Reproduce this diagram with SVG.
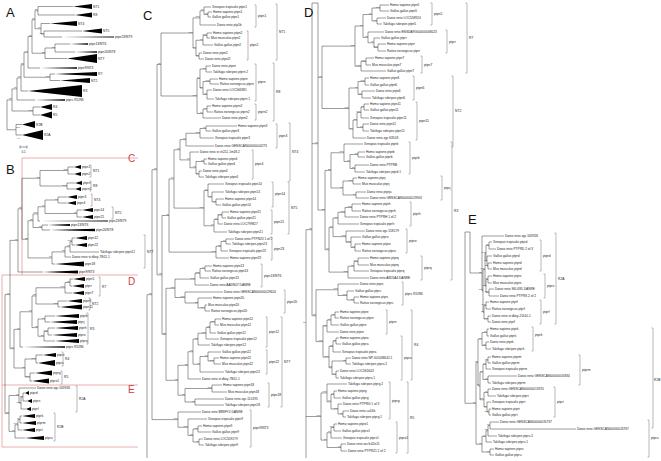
<svg xmlns="http://www.w3.org/2000/svg" width="661" height="461" viewBox="0 0 661 461">
<style>
text{font-family:"Liberation Sans",Arial,sans-serif}
.t{font-size:3.2px;fill:#222;dominant-baseline:central}
.k{font-size:3.3px;fill:#222;dominant-baseline:central}
.b{font-size:2.4px;fill:#333;text-anchor:end}
.L{font-size:13px;fill:#111}
.r{font-size:10px;fill:#d23b3b}
.tr{fill:none;stroke:#222;stroke-width:.45}
.br{fill:none;stroke:#8a8a8a;stroke-width:.6}
.box{fill:none;stroke:#e69a9a;stroke-width:.8}
.tri{fill:#000}
</style>
<rect width="661" height="461" fill="#fff"/>

<!-- ================= PANEL A ================= -->
<g id="panelA">
<text class="L" x="6" y="17">A</text>
<g id="A-connectors"><path class="tr" d="M38 6.5V15M38 6.5H73M38 15H75M44 31V37M44 31H82M44 37H62M41 23.5V34M41 23.5H50M41 34H44M35 10.75V28.75M35 10.75H38M35 28.75H41M55 44V52M55 44H70M55 52H75M45 48V58.5M45 48H55M45 58.5H67M32 19.75V53.25M32 19.75H35M32 53.25H45M28 36.5V68M28 36.5H32M28 68H40M50 74V80.5M50 74H55M50 80.5H60M24 52.25V77.25M24 52.25H28M24 77.25H50M21 64.75V91M21 64.75H24M21 91H28M17 77.9V100M17 77.9H21M17 100H35M33 107V115M33 107H40M33 115H40M12 88.9V111M12 88.9H17M12 111H33M16 124.5V135M16 124.5H22M16 135H22M7 99.95V129.75M7 99.95H12M7 129.75H16"/></g>
<g id="A-clades">
<polygon class="tri" points="73,6.5 92,4 92,9"/><text class="k" x="93" y="6.5">NT1</text>
<polygon class="tri" points="75,15 92,12.5 92,17.5"/><text class="k" x="93" y="15">R8</text>
<polygon class="tri" points="50,23.5 77,21 77,26"/><text class="k" x="78" y="23.5">NT4</text>
<polygon class="tri" points="82,31 102,28.5 102,33.5"/><text class="k" x="103" y="31">NT5</text>
<polygon class="tri" points="62,37 114,36.4 114,37.6"/><text class="k" x="115" y="37">ptpn23/NT9</text>
<polygon class="tri" points="70,44 88,43.2 88,44.8"/><text class="k" x="89" y="44">ptpn13/NT6</text>
<polygon class="tri" points="75,52 97,51.2 97,52.8"/><text class="k" x="98" y="52">ptpn20/NT8</text>
<polygon class="tri" points="67,58.5 97,54 97,63"/><text class="k" x="98" y="58.5">NT7</text>
<polygon class="tri" points="40,68 77,67.2 77,68.8"/><text class="k" x="78" y="68">ptpn9/NT3</text>
<polygon class="tri" points="55,74 97,72 97,76"/><text class="k" x="98" y="74">R7</text>
<polygon class="tri" points="60,80.5 90,78 90,83"/><text class="k" x="91" y="80.5">NT2</text>
<polygon class="tri" points="28,91 82,85 82,97"/><text class="k" x="83" y="91">R3</text>
<polygon class="tri" points="35,100 65,99.2 65,100.8"/><text class="k" x="66" y="100">ptprc R1/R6</text>
<polygon class="tri" points="40,107 52,104 52,110"/><text class="k" x="53" y="107">R4</text>
<polygon class="tri" points="40,115 52,111.5 52,118.5"/><text class="k" x="53" y="115">R5</text>
<polygon class="tri" points="22,124.5 35,121 35,128"/><text class="k" x="36" y="124.5">R2B</text>
<polygon class="tri" points="22,135 43,130 43,140"/><text class="k" x="44" y="135">R2A</text>
</g>
<g id="A-support">
<text class="b" x="37.6" y="10.25">56</text><text class="b" x="43.6" y="33.5">100</text><text class="b" x="40.6" y="28.25">99</text><text class="b" x="34.6" y="19.25">67</text><text class="b" x="54.6" y="47.5">72</text><text class="b" x="44.6" y="52.75">32</text><text class="b" x="31.6" y="36">18</text><text class="b" x="27.6" y="51.75">64</text><text class="b" x="49.6" y="76.75">100</text><text class="b" x="23.6" y="64.25">65</text><text class="b" x="20.6" y="77.4">78</text><text class="b" x="16.6" y="88.4">16</text><text class="b" x="32.6" y="110.5">100</text><text class="b" x="11.6" y="99.45">78</text><text class="b" x="20" y="127.8">100</text><text class="b" x="20" y="138.5">99</text>
</g>
<g id="A-scale"><path class="tr" d="M20 145.5V148.5M20 147H27M27 145.5V148.5"/><text x="21.5" y="152.5" style="font-size:3px;fill:#222">0.1</text></g>
</g>

<!-- ================= PANEL B ================= -->
<g id="panelB">
<text class="L" x="6" y="174">B</text>
<g id="B-boxes">
<path class="box" d="M138 158H22V275"/>
<path class="box" d="M138 275H2V385"/>
<path class="box" d="M138 385H2V447H138"/>
<text class="r" x="128" y="162">C</text>
<text class="r" x="128" y="285">D</text>
<text class="r" x="128" y="393">E</text>
</g>
<g id="B-connectors"><path class="tr" d="M68 167V174M68 167H74M68 174H74M67 183V189M67 183H75M67 189H75M40 170.5V186M40 170.5H68M40 186H67M58 197V203M58 197H67M58 203H67M77 210V217M77 210H82M77 217H82M45 200V213.5M45 200H58M45 213.5H77M38 206.75V221M38 206.75H45M38 221H40M42 225V230M42 225H48M42 230H50M33 213.9V227.5M33 213.9H38M33 227.5H42M72 238V245M72 238H75M72 245H75M70 241.5V252M70 241.5H72M70 252H99M65 246.75V257M65 246.75H70M65 257H71M52 251.9V264M52 251.9H65M52 264H55M28 220.7V257.95M28 220.7H33M28 257.95H52M22 178.25V239.3M22 178.25H40M22 239.3H28M18 208.8V272M18 208.8H22M18 272H43M70 279V286M70 279H73M70 286H72M65 282.5V293M65 282.5H70M65 293H72M58 301V307M58 301H67M58 307H60M36 287.75V304M36 287.75H65M36 304H58M45 316V322M45 316H55M45 322H50M48 328V335M48 328H55M48 335H52M44 331.5V341M44 331.5H48M44 341H55M38 319V336.25M38 319H45M38 336.25H44M32 295.9V327.6M32 295.9H36M32 327.6H38M20 311.75V347M20 311.75H32M20 347H23M36 355V363M36 355H43M36 363H38M30 373V381M30 373H35M30 381H32M25 359V377M25 359H36M25 377H30M14 329.4V368M14 329.4H20M14 368H25M10 240.4V348.7M10 240.4H18M10 348.7H14M23 393V401M23 393H25M23 401H27M21 397V409M21 397H23M21 409H26M19 388V403M19 388H36M19 403H21M20 416V423M20 416H22M20 423H22M18 419.5V430M18 419.5H20M18 430H22M15 424.75V438M15 424.75H18M15 438H25M9 395.5V431.4M9 395.5H19M9 431.4H15M5 294.55V413.45M5 294.55H10M5 413.45H9"/></g>
<g id="B-clades">
<polygon class="tri" points="74,167 81,165 81,169"/><text class="k" x="82" y="167">ptpn1</text>
<polygon class="tri" points="74,174 81,172 81,176"/><text class="k" x="82" y="174">ptpn2</text>
<polygon class="tri" points="75,183 82,181 82,185"/><text class="k" x="83" y="183">ptprn</text>
<polygon class="tri" points="75,189 81,187 81,191"/><text class="k" x="82" y="189">ptprn2</text>
<polygon class="tri" points="67,197 77,195 77,199"/><text class="k" x="78" y="197">ptpn3</text>
<polygon class="tri" points="67,203 76,201 76,205"/><text class="k" x="77" y="203">ptpn4</text>
<polygon class="tri" points="82,210 93,208 93,212"/><text class="k" x="94" y="210">ptpn14</text>
<polygon class="tri" points="82,217 93,215 93,219"/><text class="k" x="94" y="217">ptpn21</text>
<polygon class="tri" points="40,221 108,220.4 108,221.6"/><text class="k" x="109" y="221">ptpn23/NT9</text>
<polygon class="tri" points="48,225 70,224 70,226"/><text class="k" x="71" y="225">ptpn13/NT6</text>
<polygon class="tri" points="50,230 95,228.8 95,231.2"/><text class="k" x="96" y="230">ptpn20/NT8</text>
<polygon class="tri" points="75,238 87,236 87,240"/><text class="k" x="88" y="238">ptpn12</text>
<polygon class="tri" points="75,245 87,243 87,247"/><text class="k" x="88" y="245">ptpn22</text>
<text class="t" x="100" y="252">Takifugu rubripes ptpn22</text>
<text class="t" x="72" y="257">Danio rerio si:dkey-78i11.1</text>
<polygon class="tri" points="55,264 84,261.5 84,266.5"/><text class="k" x="85" y="264">ptpn18</text>
<polygon class="tri" points="43,272 78,270.5 78,273.5"/><text class="k" x="79" y="272">ptpn9/NT3</text>
<polygon class="tri" points="73,279 85,277 85,281"/><text class="k" x="86" y="279">ptpn5</text>
<polygon class="tri" points="72,286 84,284 84,288"/><text class="k" x="85" y="286">ptprr</text>
<polygon class="tri" points="72,293 84,291 84,295"/><text class="k" x="85" y="293">ptpn7</text>
<polygon class="tri" points="67,301 82,299 82,303"/><text class="k" x="83" y="301">ptpn6</text>
<polygon class="tri" points="60,307 82,304.5 82,309.5"/><text class="k" x="83" y="307">ptpn11</text>
<polygon class="tri" points="55,316 79,314 79,318"/><text class="k" x="80" y="316">ptprb</text>
<polygon class="tri" points="50,322 77,320 77,324"/><text class="k" x="78" y="322">ptprj</text>
<polygon class="tri" points="55,328 78,326 78,330"/><text class="k" x="79" y="328">ptprh</text>
<polygon class="tri" points="52,335 77,333 77,337"/><text class="k" x="78" y="335">ptpro</text>
<polygon class="tri" points="55,341 79,339 79,343"/><text class="k" x="80" y="341">ptprq</text>
<polygon class="tri" points="23,347 65,346.2 65,347.8"/><text class="k" x="66" y="347">ptprc R1/R6</text>
<polygon class="tri" points="43,355 56,353 56,357"/><text class="k" x="57" y="355">ptpre</text>
<polygon class="tri" points="38,363 55,360 55,366"/><text class="k" x="56" y="363">ptpra</text>
<polygon class="tri" points="35,373 52,370.5 52,375.5"/><text class="k" x="53" y="373">ptprg</text>
<polygon class="tri" points="32,381 49,378.5 49,383.5"/><text class="k" x="50" y="381">ptprz1</text>
<text class="t" x="37" y="388">Danio rerio zgc:163926</text>
<polygon class="tri" points="25,393 29,391 29,395"/><text class="k" x="30" y="393">ptprd</text>
<polygon class="tri" points="27,401 32,399 32,403"/><text class="k" x="33" y="401">ptprs</text>
<polygon class="tri" points="26,409 31,407 31,411"/><text class="k" x="32" y="409">ptprf</text>
<polygon class="tri" points="22,416 35,414 35,418"/><text class="k" x="36" y="416">ptprk</text>
<polygon class="tri" points="22,423 36,421 36,425"/><text class="k" x="37" y="423">ptprm</text>
<polygon class="tri" points="22,430 35,428 35,432"/><text class="k" x="36" y="430">ptprt</text>
<polygon class="tri" points="25,438 44,436 44,440"/><text class="k" x="45" y="438">ptpru</text>
</g>
<g id="B-brackets">
<path class="br" d="M89.5 165H91V177H89.5M89.5 181H91V191H89.5M90.5 194H92V206H90.5M111.5 207H113V219H111.5M143.5 235H145V268H143.5M98.5 277H100V296H98.5M88.5 298H90V310H88.5M86.5 313H88V344H86.5M61.5 352H63V366H61.5M60.5 371H62V384H60.5M75.5 386H77V412H75.5M53.5 413H55V441H53.5"/>
<text class="k" x="93" y="171">NT1</text><text class="k" x="93" y="186">R8</text><text class="k" x="94" y="200">NT4</text><text class="k" x="115" y="213">NT5</text><text class="k" x="147" y="252">NT7</text><text class="k" x="102" y="287">R7</text><text class="k" x="92" y="304">NT2</text><text class="k" x="90" y="329">R3</text><text class="k" x="65" y="359">R4</text><text class="k" x="64" y="377">R5</text><text class="k" x="79" y="399">R2A</text><text class="k" x="57" y="427">R2B</text>
</g>
<g id="B-support">
<text class="b" x="67.6" y="170">100</text><text class="b" x="66.6" y="185.5">100</text><text class="b" x="39.6" y="177.75">30</text><text class="b" x="57.6" y="199.5">99</text><text class="b" x="76.6" y="213">98</text><text class="b" x="44.6" y="206.25">97</text><text class="b" x="37.6" y="213.4">100</text><text class="b" x="41.6" y="227">72</text><text class="b" x="32.6" y="220.2">75</text><text class="b" x="71.6" y="241">100</text><text class="b" x="69.6" y="246.25">91</text><text class="b" x="64.6" y="251.4">82</text><text class="b" x="51.6" y="257.45">96</text><text class="b" x="27.6" y="238.8">32</text><text class="b" x="21.6" y="208.3">17</text><text class="b" x="17.6" y="239.9">97</text><text class="b" x="69.6" y="282">95</text><text class="b" x="64.6" y="287.25">100</text><text class="b" x="57.6" y="303.5">100</text><text class="b" x="35.6" y="295.4">83</text><text class="b" x="44.6" y="318.5">96</text><text class="b" x="47.6" y="331">100</text><text class="b" x="43.6" y="335.75">51</text><text class="b" x="37.6" y="327.1">95</text><text class="b" x="31.6" y="311.25">98</text><text class="b" x="19.6" y="328.9">91</text><text class="b" x="35.6" y="358.5">100</text><text class="b" x="29.6" y="376.5">100</text><text class="b" x="24.6" y="367.5">98</text><text class="b" x="13.6" y="348.2">91</text><text class="b" x="9.6" y="294.05">97</text><text class="b" x="22.6" y="396.5">88</text><text class="b" x="20.6" y="402.5">100</text><text class="b" x="18.6" y="395">92</text><text class="b" x="19.6" y="419">99</text><text class="b" x="17.6" y="424.25">100</text><text class="b" x="14.6" y="430.9">96</text><text class="b" x="8.6" y="412.95">95</text>
</g>
</g>

<!-- ================= PANEL C ================= -->
<g id="panelC">
<text class="L" x="143" y="20">C</text>
<g id="C-connectors"><path class="tr" d="M208 12V17M208 12H212M208 17H211M204 7V14.5M204 7H211M204 14.5H208M200 10.75V25M200 10.75H204M200 25H216M207 33V38M207 33H212M207 38H210M203 35.5V45M203 35.5H207M203 45H213M199 53V59M199 53H202M199 59H204M196 40.25V56M196 40.25H203M196 56H199M193 17.9V48.1M193 17.9H200M193 48.1H196M210 79V84M210 79H218M210 84H219M206 66V72M206 66H211M206 72H212M207 90V99M207 90H212M207 99H214M203 81.5V94.5M203 81.5H210M203 94.5H207M200 69V88M200 69H206M200 88H203M207 106V112M207 106H211M207 112H213M203 109V118M203 109H207M203 118H221M197 78.5V113.5M197 78.5H200M197 113.5H203M161 33V96M161 33H193M161 96H197M206 126V131M206 126H237M206 131H211M200 128.5V138M200 128.5H206M200 138H214M186 133.25V146M186 133.25H200M186 146H214M204 159V164M204 159H207M204 164H207M199 171V177M199 171H202M199 177H204M196 161.5V174M196 161.5H204M196 174H199M190 152V167.75M190 152H199M190 167.75H196M180 139.6V159.9M180 139.6H186M180 159.9H190M216 199V205M216 199H224M216 205H221M212 192V202M212 192H224M212 202H216M208 184V197M208 184H224M208 197H212M222 212V218M222 212H229M222 218H226M218 215V224M218 215H222M218 224H223M214 219.5V232M214 219.5H218M214 232H227M204 190.5V225.75M204 190.5H208M204 225.75H214M174 149.75V208.1M174 149.75H180M174 208.1H204M226 239V244M226 239H234M226 244H231M221 241.5V251M221 241.5H226M221 251H228M216 246.25V258M216 246.25H221M216 258H229M169 178.9V252.1M169 178.9H174M169 252.1H216M205 266V271M205 266H212M205 271H211M200 268.5V278M200 268.5H205M200 278H209M195 273.25V285M195 273.25H200M195 285H209M205 305V311M205 305H207M205 311H210M198 298V308M198 298H212M198 308H205M185 292V303M185 292H223M185 303H198M175 279.1V297.5M175 279.1H195M175 297.5H185M215 319V325M215 319H221M215 325H219M210 322V333M210 322H215M210 333H216M206 327.5V339M206 327.5H210M206 339H219M198 333.25V345M198 333.25H206M198 345H210M214 358V364M214 358H219M214 364H221M208 352V361M208 352H221M208 361H214M200 356.5V372M200 356.5H208M200 372H224M193 339.1V364.25M193 339.1H198M193 364.25H200M188 351.7V379M188 351.7H193M188 379H201M212 385V392M212 385H222M212 392H227M195 399V405M195 399H224M195 405H224M185 388.5V402M185 388.5H212M185 402H195M178 365.3V395.25M178 365.3H188M178 395.25H185M166 288.3V380.3M166 288.3H175M166 380.3H178M162 215.5V334.3M162 215.5H169M162 334.3H166M157 64.5V274.9M157 64.5H161M157 274.9H162M198 426V432M198 426H202M198 432H211M199 439V445M199 439H203M199 445H204M193 429V442M193 429H198M193 442H199M188 419V435.5M188 419H207M188 435.5H193M178 412V427.25M178 412H201M178 427.25H188M152 169.7V419.6M152 169.7H157M152 419.6H178M147 294.65V458M147 294.65H152"/></g>
<g id="C-NT1">
<text class="t" x="212" y="7">Xenopus tropicalis ptpn1</text><text class="t" x="213" y="12">Homo sapiens ptpn1</text><text class="t" x="212" y="17">Gallus gallus ptpn1</text><text class="t" x="217" y="25">Danio rerio ptp1b</text><text class="t" x="213" y="33">Homo sapiens ptpn2</text><text class="t" x="211" y="38">Mus musculus ptpn2</text><text class="t" x="214" y="45">Gallus gallus ptpn2</text><text class="t" x="203" y="53">Danio rerio ptpn2</text><text class="t" x="205" y="59">Danio rerio ptpn2l</text>
</g>
<g id="C-R8">
<text class="t" x="212" y="66">Danio rerio ptprn</text><text class="t" x="213" y="72">Takifugu rubripes ptprn 2</text><text class="t" x="219" y="79">Homo sapiens ptprn</text><text class="t" x="220" y="84">Rattus norvegicus ptprn</text><text class="t" x="213" y="90">Danio rerio LOC566381</text><text class="t" x="215" y="99">Takifugu rubripes ptprn 1</text><text class="t" x="212" y="106">Homo sapiens ptprn2</text><text class="t" x="214" y="112">Rattus norvegicus ptprn2</text><text class="t" x="222" y="118">Danio rerio ptprn2</text>
</g>
<g id="C-NT4">
<text class="t" x="238" y="126">Homo sapiens ptpn3</text><text class="t" x="212" y="131">Gallus gallus ptpn3</text><text class="t" x="215" y="138">Xenopus tropicalis ptpn3</text><text class="t" x="215" y="146">Danio rerio GENSCAN00000004273</text><text class="t" x="200" y="152">Danio rerio si:ch211-1m18.2</text><text class="t" x="208" y="159">Homo sapiens ptpn4</text><text class="t" x="208" y="164">Gallus gallus ptpn4</text><text class="t" x="203" y="171">Danio rerio ptpn4</text><text class="t" x="205" y="177">Takifugu rubripes ptpn4</text>
</g>
<g id="C-NT5">
<text class="t" x="225" y="184">Xenopus tropicalis ptpn14</text><text class="t" x="225" y="192">Takifugu rubripes ptpn14</text><text class="t" x="225" y="199">Homo sapiens ptpn14</text><text class="t" x="222" y="205">Gallus gallus ptpn14</text><text class="t" x="230" y="212">Homo sapiens ptpn21</text><text class="t" x="227" y="218">Gallus gallus ptpn21</text><text class="t" x="224" y="224">Danio rerio LOC799827</text><text class="t" x="228" y="232">Takifugu rubripes ptpn21</text>
</g>
<g id="C-ptpn23">
<text class="t" x="235" y="239">Danio rerio PTPN23 1 of 2</text><text class="t" x="232" y="244">Takifugu rubripes ptpn23</text><text class="t" x="229" y="251">Xenopus tropicalis ptpn23</text><text class="t" x="230" y="258">Homo sapiens ptpn23</text>
</g>
<g id="C-ptpn13-20">
<text class="t" x="213" y="266">Homo sapiens ptpn13</text><text class="t" x="212" y="271">Rattus norvegicus ptpn13</text><text class="t" x="210" y="278">Gallus gallus ptpn13</text><text class="t" x="210" y="285">Danio rerio AADN07 DANRE</text><text class="t" x="224" y="292">Danio rerio GENSCAN00000029624</text><text class="t" x="213" y="298">Homo sapiens ptpn20</text><text class="t" x="208" y="305">Mus musculus ptpn20</text><text class="t" x="211" y="311">Rattus norvegicus ptpn20</text>
</g>
<g id="C-NT7">
<text class="t" x="222" y="319">Homo sapiens ptpn12</text><text class="t" x="220" y="325">Mus musculus ptpn12</text><text class="t" x="217" y="333">Gallus gallus ptpn12</text><text class="t" x="220" y="339">Xenopus tropicalis ptpn12</text><text class="t" x="211" y="345">Takifugu rubripes ptpn12</text><text class="t" x="222" y="352">Gallus gallus ptpn22</text><text class="t" x="220" y="358">Homo sapiens ptpn22</text><text class="t" x="222" y="364">Mus musculus ptpn22</text><text class="t" x="225" y="372">Takifugu rubripes ptpn22</text><text class="t" x="202" y="379">Danio rerio si:dkey-78i11.1</text><text class="t" x="223" y="385">Homo sapiens ptpn18</text><text class="t" x="228" y="392">Mus musculus ptpn18</text><text class="t" x="225" y="399">Danio rerio zgc:110195</text><text class="t" x="225" y="405">Takifugu rubripes ptpn18</text>
</g>
<g id="C-NT3">
<text class="t" x="202" y="412">Danio rerio B8NFY0 DANRE</text><text class="t" x="208" y="419">Xenopus tropicalis ptpn9</text><text class="t" x="203" y="426">Homo sapiens ptpn9</text><text class="t" x="212" y="432">Gallus gallus ptpn9</text><text class="t" x="204" y="439">Danio rerio LOC559179</text><text class="t" x="205" y="445">Takifugu rubripes ptpn9</text>
</g>
<g id="C-brackets">
<path class="br" d="M254.5 5H256V27H254.5M246.5 31H248V60H246.5M275.5 4H277V60H275.5M254.5 64H256V101H254.5M254.5 104H256V120H254.5M272.5 63H274V121H272.5M275.5 124H277V148H275.5M251.5 150H253V179H251.5M288.5 123H290V181H288.5M271.5 182H273V207H271.5M270.5 210H272V234H270.5M287.5 182H289V234H287.5M270.5 237H272V260H270.5M260.5 264H262V287H260.5M283.5 290H285V313H283.5M265.5 317H267V347H265.5M265.5 350H267V374H265.5M267.5 383H269V407H267.5M280.5 317H282V407H280.5M249.5 410H251V447H249.5"/>
<text class="k" x="258" y="16">ptpn1</text><text class="k" x="250" y="45">ptpn2</text><text class="k" x="279" y="32">NT1</text><text class="k" x="258" y="82">ptprn</text><text class="k" x="258" y="112">ptprn2</text><text class="k" x="276" y="92">R8</text><text class="k" x="279" y="136">ptpn3</text><text class="k" x="255" y="164">ptpn4</text><text class="k" x="292" y="152">NT4</text><text class="k" x="275" y="194">ptpn14</text><text class="k" x="274" y="222">ptpn21</text><text class="k" x="291" y="208">NT5</text><text class="k" x="274" y="249">ptpn23</text><text class="k" x="264" y="276">ptpn13/NT6</text><text class="k" x="287" y="302">ptpn20</text><text class="k" x="269" y="332">ptpn12</text><text class="k" x="269" y="362">ptpn22</text><text class="k" x="271" y="395">ptpn18</text><text class="k" x="284" y="362">NT7</text><text class="k" x="253" y="428">ptpn9/NT3</text>
</g>
<g id="C-support">
<text class="b" x="207.6" y="14">98</text><text class="b" x="203.6" y="10.25">96</text><text class="b" x="199.6" y="17.4">100</text><text class="b" x="206.6" y="35">100</text><text class="b" x="202.6" y="39.75">96</text><text class="b" x="198.6" y="55.5">98</text><text class="b" x="195.6" y="47.6">96</text><text class="b" x="192.6" y="32.5">100</text><text class="b" x="209.6" y="81">100</text><text class="b" x="205.6" y="68.5">94</text><text class="b" x="206.6" y="94">97</text><text class="b" x="202.6" y="87.5">77</text><text class="b" x="199.6" y="78">96</text><text class="b" x="206.6" y="108.5">94</text><text class="b" x="202.6" y="113">96</text><text class="b" x="196.6" y="95.5">100</text><text class="b" x="160.6" y="64">56</text><text class="b" x="205.6" y="128">99</text><text class="b" x="199.6" y="132.75">100</text><text class="b" x="185.6" y="139.1">96</text><text class="b" x="203.6" y="161">98</text><text class="b" x="198.6" y="173.5">79</text><text class="b" x="195.6" y="167.25">98</text><text class="b" x="189.6" y="159.4">99</text><text class="b" x="179.6" y="149.25">90</text><text class="b" x="215.6" y="201.5">98</text><text class="b" x="211.6" y="196.5">98</text><text class="b" x="207.6" y="190">99</text><text class="b" x="221.6" y="214.5">100</text><text class="b" x="217.6" y="219">99</text><text class="b" x="213.6" y="225.25">99</text><text class="b" x="203.6" y="207.6">100</text><text class="b" x="173.6" y="178.4">97</text><text class="b" x="225.6" y="241">99</text><text class="b" x="220.6" y="245.75">87</text><text class="b" x="215.6" y="251.6">100</text><text class="b" x="168.6" y="215">45</text><text class="b" x="204.6" y="268">94</text><text class="b" x="199.6" y="272.75">100</text><text class="b" x="194.6" y="278.6">100</text><text class="b" x="204.6" y="307.5">100</text><text class="b" x="197.6" y="302.5">53</text><text class="b" x="184.6" y="297">100</text><text class="b" x="174.6" y="287.8">100</text><text class="b" x="214.6" y="321.5">100</text><text class="b" x="209.6" y="327">92</text><text class="b" x="205.6" y="332.75">100</text><text class="b" x="197.6" y="338.6">73</text><text class="b" x="213.6" y="360.5">100</text><text class="b" x="207.6" y="356">99</text><text class="b" x="199.6" y="363.75">48</text><text class="b" x="192.6" y="351.2">91</text><text class="b" x="187.6" y="364.8">56</text><text class="b" x="211.6" y="388">100</text><text class="b" x="194.6" y="401.5">98</text><text class="b" x="184.6" y="394.75">78</text><text class="b" x="177.6" y="379.8">98</text><text class="b" x="165.6" y="333.8">32</text><text class="b" x="161.6" y="274.4">63</text><text class="b" x="156.6" y="169.2">17</text><text class="b" x="197.6" y="428.5">61</text><text class="b" x="198.6" y="441.5">96</text><text class="b" x="192.6" y="435">70</text><text class="b" x="187.6" y="426.75">100</text><text class="b" x="177.6" y="419.1">100</text><text class="b" x="151.6" y="294.15">78</text>
</g>
</g>

<!-- ================= PANEL D ================= -->
<g id="panelD">
<text class="L" x="304" y="17">D</text>
<g id="D-connectors"><path class="tr" d="M380 5V11M380 5H389M380 11H389M377 18V24M377 18H386M377 24H382M372 8V21M372 8H380M372 21H377M378 44V51M378 44H386M378 51H386M374 38V47.5M374 38H380M374 47.5H378M368 32V42.75M368 32H384M368 42.75H374M363 14.5V37.4M363 14.5H372M363 37.4H368M366 58V65M366 58H374M366 65H371M361 61.5V71M361 61.5H366M361 71H386M355 26V66.25M355 26H363M355 66.25H361M365 78V85M365 78H369M365 85H369M362 91V98M362 91H375M362 98H371M358 81.5V94.5M358 81.5H365M358 94.5H362M364 104V110M364 104H369M364 110H369M361 107V118M361 107H364M361 118H369M363 124V131M363 124H369M363 131H369M357 112.5V127.5M357 112.5H361M357 127.5H363M353 120V138M353 120H357M353 138H366M349 88V129M349 88H358M349 129H353M322 46.1V108.5M322 46.1H355M322 108.5H349M358 152V157M358 152H365M358 157H365M355 165V172M355 165H369M355 172H365M350 154.5V168.5M350 154.5H358M350 168.5H355M344 144V161.5M344 144H363M344 161.5H350M353 178V184M353 178H357M353 184H361M356 192V198M356 192H366M356 198H369M343 181V195M343 181H353M343 195H356M331 152.75V188M331 152.75H344M331 188H343M352 204V211M352 204H361M352 211H361M345 207.5V217M345 207.5H352M345 217H359M338 212.25V224M338 212.25H345M338 224H359M355 244V251M355 244H361M355 251H361M351 237V247.5M351 237H361M351 247.5H355M346 231V242.25M346 231H365M346 242.25H351M333 218.1V236.6M333 218.1H338M333 236.6H346M358 258V265M358 258H369M358 265H369M354 261.5V271M354 261.5H358M354 271H369M348 266.25V278M348 266.25H354M348 278H369M329 227.4V272.1M329 227.4H333M329 272.1H348M325 170.4V249.75M325 170.4H331M325 249.75H329M318 77.3V210M318 77.3H322M318 210H325M354 297V303M354 297H359M354 303H359M347 291V300M347 291H354M347 300H354M338 284V295.5M338 284H359M338 295.5H347M335 312V318M335 312H339M335 318H339M331 315V325M331 315H335M331 325H339M327 320V332M327 320H331M327 332H339M336 338V344M336 338H339M336 344H341M333 341V352M333 341H336M333 352H341M346 358V364M346 358H351M346 364H351M336 371V378M336 371H339M336 378H339M332 361V374.5M332 361H346M332 374.5H336M329 346.5V367.75M329 346.5H333M329 367.75H332M323 326V357.1M323 326H327M323 357.1H329M316 289.75V341.6M316 289.75H338M316 341.6H323M312 143.7V315.7M312 143.7H318M312 315.7H316M334 391V398M334 391H337M334 398H341M343 411V417M343 411H349M343 417H346M338 404V414M338 404H342M338 414H343M331 394.5V409M331 394.5H334M331 409H338M327 384V401.75M327 384H347M327 401.75H331M334 424V431M334 424H337M334 431H341M331 427.5V438M331 427.5H334M331 438H342M341 444V451M341 444H346M341 451H347M327 432.75V447.5M327 432.75H331M327 447.5H341M321 392.9V440.1M321 392.9H327M321 440.1H327M306 229.7V458M306 229.7H312M306 416.5H321M312 3H318M312 3V143.7M318 3V77.3"/></g>
<g id="D-R7">
<text class="t" x="390" y="5">Homo sapiens ptpn5</text><text class="t" x="390" y="11">Gallus gallus ptpn5</text><text class="t" x="387" y="18">Danio rerio LOC558924</text><text class="t" x="383" y="24">Takifugu rubripes ptpn5</text><text class="t" x="385" y="32">Danio rerio ENSDARG00000068023</text><text class="t" x="381" y="38">Gallus gallus ptprr</text><text class="t" x="387" y="44">Homo sapiens ptprr</text><text class="t" x="387" y="51">Rattus norvegicus ptprr</text><text class="t" x="375" y="58">Homo sapiens ptpn7</text><text class="t" x="372" y="65">Mus musculus ptpn7</text><text class="t" x="387" y="71">Gallus gallus ptpn7</text>
</g>
<g id="D-NT2">
<text class="t" x="370" y="78">Homo sapiens ptpn6</text><text class="t" x="370" y="85">Gallus gallus ptpn6</text><text class="t" x="376" y="91">Danio rerio ptpn6</text><text class="t" x="372" y="98">Takifugu rubripes ptpn6</text><text class="t" x="370" y="104">Homo sapiens ptpn11</text><text class="t" x="370" y="110">Gallus gallus ptpn11</text><text class="t" x="370" y="118">Xenopus tropicalis ptpn11</text><text class="t" x="370" y="124">Danio rerio ptpn11</text><text class="t" x="370" y="131">Takifugu rubripes ptpn11</text><text class="t" x="367" y="138">Danio rerio zgc:63503</text>
</g>
<g id="D-R3">
<text class="t" x="364" y="144">Xenopus tropicalis ptprb</text><text class="t" x="366" y="152">Homo sapiens ptprb</text><text class="t" x="366" y="157">Gallus gallus ptprb</text><text class="t" x="370" y="165">Danio rerio PTPRB</text><text class="t" x="366" y="172">Takifugu rubripes ptprb 1</text><text class="t" x="358" y="178">Homo sapiens ptprj</text><text class="t" x="362" y="184">Mus musculus ptprj</text><text class="t" x="367" y="192">Danio rerio ptprja</text><text class="t" x="370" y="198">Danio rerio GENSCAN00000023903</text><text class="t" x="362" y="204">Homo sapiens ptprh</text><text class="t" x="362" y="211">Rattus norvegicus ptprh</text><text class="t" x="360" y="217">Danio rerio PTPRH 1 of 2</text><text class="t" x="360" y="224">Xenopus tropicalis ptprh</text><text class="t" x="366" y="231">Danio rerio zgc:158179</text><text class="t" x="362" y="237">Gallus gallus ptpro</text><text class="t" x="362" y="244">Homo sapiens ptpro</text><text class="t" x="362" y="251">Rattus norvegicus ptpro</text><text class="t" x="370" y="258">Homo sapiens ptprq</text><text class="t" x="370" y="265">Mus musculus ptprq</text><text class="t" x="370" y="271">Xenopus tropicalis ptprq</text><text class="t" x="370" y="278">Danio rerio A8D5A4 DANRE</text>
</g>
<g id="D-R1R6">
<text class="t" x="360" y="284">Danio rerio ptprc</text><text class="t" x="355" y="291">Gallus gallus ptprc</text><text class="t" x="360" y="297">Homo sapiens ptprc</text><text class="t" x="360" y="303">Rattus norvegicus ptprc</text>
</g>
<g id="D-R4">
<text class="t" x="340" y="312">Homo sapiens ptpre</text><text class="t" x="340" y="318">Rattus norvegicus ptpre</text><text class="t" x="340" y="325">Gallus gallus ptpre</text><text class="t" x="340" y="332">Danio rerio ptpre</text><text class="t" x="340" y="338">Homo sapiens ptpra</text><text class="t" x="342" y="344">Gallus gallus ptpra</text><text class="t" x="342" y="352">Xenopus tropicalis ptpra</text><text class="t" x="352" y="358">Danio rerio NP 001038642.1</text><text class="t" x="352" y="364">Takifugu rubripes ptpra 2</text><text class="t" x="340" y="371">Danio rerio LOC561643</text><text class="t" x="340" y="378">Takifugu rubripes ptpra 1</text>
</g>
<g id="D-R5">
<text class="t" x="348" y="384">Takifugu rubripes ptprg 2</text><text class="t" x="338" y="391">Homo sapiens ptprg</text><text class="t" x="342" y="398">Gallus gallus ptprg</text><text class="t" x="343" y="404">Danio rerio PTPRG 1 of 3</text><text class="t" x="350" y="411">Danio rerio ca16b</text><text class="t" x="347" y="417">Takifugu rubripes ptprg 1</text><text class="t" x="338" y="424">Homo sapiens ptprz1</text><text class="t" x="342" y="431">Gallus gallus ptprz1</text><text class="t" x="343" y="438">Xenopus tropicalis ptprz1</text><text class="t" x="347" y="444">Danio rerio wu:fc62e11</text><text class="t" x="348" y="451">Danio rerio PTPRZ1 2 of 2</text>
</g>
<g id="D-brackets">
<path class="br" d="M430.5 3H432V25H430.5M445.5 30H447V53H445.5M420.5 56H422V73H420.5M465.5 3H467V73H465.5M412.5 76H414V100H412.5M415.5 102H417V140H415.5M451.5 76H453V147H451.5M408.5 142H410V174H408.5M440.5 176H442V200H440.5M409.5 202H411V226H409.5M405.5 229H407V253H405.5M420.5 256H422V280H420.5M450.5 142H452V280H450.5M401.5 282H403V305H401.5M385.5 310H387V334H385.5M400.5 336H402V380H400.5M410.5 310H412V380H410.5M388.5 382H390V419H388.5M395.5 422H397V453H395.5M406.5 382H408V453H406.5"/>
<text class="k" x="434" y="14">ptpn5</text><text class="k" x="449" y="42">ptprr</text><text class="k" x="424" y="65">ptpn7</text><text class="k" x="469" y="38">R7</text><text class="k" x="416" y="88">ptpn6</text><text class="k" x="419" y="121">ptpn11</text><text class="k" x="455" y="111">NT2</text><text class="k" x="412" y="158">ptprb</text><text class="k" x="444" y="188">ptprj</text><text class="k" x="413" y="214">ptprh</text><text class="k" x="409" y="241">ptpro</text><text class="k" x="424" y="268">ptprq</text><text class="k" x="454" y="211">R3</text><text class="k" x="405" y="294">ptprc R1/R6</text><text class="k" x="389" y="322">ptpre</text><text class="k" x="404" y="358">ptpra</text><text class="k" x="414" y="345">R4</text><text class="k" x="392" y="401">ptprg</text><text class="k" x="399" y="438">ptprz1</text><text class="k" x="410" y="418">R5</text>
</g>
<g id="D-support">
<text class="b" x="379.6" y="7.5">100</text><text class="b" x="376.6" y="20.5">96</text><text class="b" x="371.6" y="14">96</text><text class="b" x="377.6" y="47">100</text><text class="b" x="373.6" y="42.25">99</text><text class="b" x="367.6" y="36.9">95</text><text class="b" x="362.6" y="25.5">95</text><text class="b" x="365.6" y="61">100</text><text class="b" x="360.6" y="65.75">100</text><text class="b" x="354.6" y="45.6">100</text><text class="b" x="364.6" y="81">100</text><text class="b" x="361.6" y="94">96</text><text class="b" x="357.6" y="87.5">99</text><text class="b" x="363.6" y="106.5">97</text><text class="b" x="360.6" y="112">100</text><text class="b" x="362.6" y="127">97</text><text class="b" x="356.6" y="119.5">97</text><text class="b" x="352.6" y="128.5">97</text><text class="b" x="348.6" y="108">100</text><text class="b" x="321.6" y="76.8">97</text><text class="b" x="357.6" y="154">96</text><text class="b" x="354.6" y="168">57</text><text class="b" x="349.6" y="161">96</text><text class="b" x="343.6" y="152.25">100</text><text class="b" x="352.6" y="180.5">100</text><text class="b" x="355.6" y="194.5">98</text><text class="b" x="342.6" y="187.5">99</text><text class="b" x="330.6" y="169.9">28</text><text class="b" x="351.6" y="207">100</text><text class="b" x="344.6" y="211.75">100</text><text class="b" x="337.6" y="217.6">84</text><text class="b" x="354.6" y="247">91</text><text class="b" x="350.6" y="241.75">100</text><text class="b" x="345.6" y="236.1">100</text><text class="b" x="332.6" y="226.9">84</text><text class="b" x="357.6" y="261">100</text><text class="b" x="353.6" y="265.75">98</text><text class="b" x="347.6" y="271.6">100</text><text class="b" x="328.6" y="249.25">48</text><text class="b" x="324.6" y="209.5">51</text><text class="b" x="317.6" y="143.2">91</text><text class="b" x="353.6" y="299.5">59</text><text class="b" x="346.6" y="295">100</text><text class="b" x="337.6" y="289.25">100</text><text class="b" x="334.6" y="314.5">99</text><text class="b" x="330.6" y="319.5">99</text><text class="b" x="326.6" y="325.5">100</text><text class="b" x="335.6" y="340.5">93</text><text class="b" x="332.6" y="346">83</text><text class="b" x="345.6" y="360.5">92</text><text class="b" x="335.6" y="374">99</text><text class="b" x="331.6" y="367.25">73</text><text class="b" x="328.6" y="356.6">100</text><text class="b" x="322.6" y="341.1">100</text><text class="b" x="315.6" y="315.2">78</text><text class="b" x="311.6" y="229.2">95</text><text class="b" x="333.6" y="394">99</text><text class="b" x="342.6" y="413.5">95</text><text class="b" x="337.6" y="408.5">100</text><text class="b" x="330.6" y="401.25">99</text><text class="b" x="326.6" y="392.4">100</text><text class="b" x="333.6" y="427">100</text><text class="b" x="330.6" y="432.25">97</text><text class="b" x="340.6" y="447">97</text><text class="b" x="326.6" y="439.6">99</text><text class="b" x="320.6" y="416">100</text><text class="b" x="305.6" y="322.6">78</text>
</g>
</g>

<!-- ================= PANEL E ================= -->
<g id="panelE">
<text class="L" x="468" y="224">E</text>
<g id="E-connectors"><path class="tr" d="M489 242V249M489 242H492M489 249H496M488 263V269M488 263H492M488 269H492M487 256V266M487 256H492M487 266H488M486 245.5V261M486 245.5H489M486 261H487M488 276V283M488 276H492M488 283H492M489 289V296M489 289H494M489 296H499M486 279.5V292.5M486 279.5H488M486 292.5H489M485 253.25V286M485 253.25H486M485 286H486M486 302V309M486 302H489M486 309H491M488 316V322M488 316H491M488 322H491M484 305.5V319M484 305.5H486M484 319H488M483 269.6V312.25M483 269.6H485M483 312.25H484M482 236V290.9M482 236H504M482 290.9H483M487 329V336M487 329H489M487 336H489M486 342V349M486 342H489M486 349H491M482 332.5V345.5M482 332.5H487M482 345.5H486M488 357V363M488 357H491M488 363H491M486 360V369M486 360H488M486 369H491M488 376V383M488 376H517M488 383H491M483 364.5V379.5M483 364.5H486M483 379.5H488M488 389V396M488 389H491M488 396H496M489 409V415M489 409H491M489 415H491M487 402V412M487 402H491M487 412H489M484 392.5V407M484 392.5H488M484 407H487M480 372V399.75M480 372H483M480 399.75H484M478 339V385.9M478 339H482M478 385.9H480M490 422V429M490 422H499M490 429H576M488 425.5V436M488 425.5H490M488 436H497M486 430.75V442M486 430.75H488M486 442H492M490 449V455M490 449H494M490 455H494M482 436.4V452M482 436.4H486M482 452H490M476 362.4V444.2M476 362.4H478M476 444.2H482M465 232V403.3M465 232H470V273H482M465 403.3H476"/></g>
<g id="E-R2A">
<text class="t" x="505" y="236">Danio rerio zgc:163926</text><text class="t" x="493" y="242">Xenopus tropicalis ptprd</text><text class="t" x="497" y="249">Danio rerio PTPRD 2 of 3</text><text class="t" x="493" y="256">Gallus gallus ptprd</text><text class="t" x="493" y="263">Homo sapiens ptprd</text><text class="t" x="493" y="269">Mus musculus ptprd</text><text class="t" x="493" y="276">Homo sapiens ptprs</text><text class="t" x="493" y="283">Mus musculus ptprs</text><text class="t" x="495" y="289">Danio rerio S6L6S5 DANRE</text><text class="t" x="500" y="296">Danio rerio PTPRS 2 of 2</text><text class="t" x="490" y="302">Homo sapiens ptprf</text><text class="t" x="492" y="309">Rattus norvegicus ptprf</text><text class="t" x="492" y="316">Danio rerio si:dkey-21k10.1</text><text class="t" x="492" y="322">Danio rerio ptprf</text>
</g>
<g id="E-R2B">
<text class="t" x="490" y="329">Homo sapiens ptprk</text><text class="t" x="490" y="336">Gallus gallus ptprk</text><text class="t" x="490" y="342">Danio rerio ptprk</text><text class="t" x="492" y="349">Takifugu rubripes ptprk</text><text class="t" x="492" y="357">Homo sapiens ptprm</text><text class="t" x="492" y="363">Gallus gallus ptprm</text><text class="t" x="492" y="369">Xenopus tropicalis ptprm</text><text class="t" x="518" y="376">Danio rerio GENSCAN00000005834</text><text class="t" x="492" y="383">Takifugu rubripes ptprm</text><text class="t" x="492" y="389">Danio rerio GENSCAN00000013370</text><text class="t" x="497" y="396">Takifugu rubripes ptprt</text><text class="t" x="492" y="402">Xenopus tropicalis ptprt</text><text class="t" x="492" y="409">Homo sapiens ptprt</text><text class="t" x="492" y="415">Gallus gallus ptprt</text><text class="t" x="500" y="422">Danio rerio GENSCAN00000035737</text><text class="t" x="577" y="429">Danio rerio GENSCAN00000026767</text><text class="t" x="498" y="436">Takifugu rubripes ptpru 2</text><text class="t" x="493" y="442">Takifugu rubripes ptpru 1</text><text class="t" x="495" y="449">Homo sapiens ptpru</text><text class="t" x="495" y="455">Gallus gallus ptpru</text>
</g>
<g id="E-brackets">
<path class="br" d="M539.5 240H541V271H539.5M543.5 274H545V298H543.5M539.5 300H541V324H539.5M554.5 233H556V324H554.5M531.5 327H533V351H531.5M578.5 355H580V385H578.5M553.5 387H555V417H553.5M647.5 420H649V457H647.5M651.5 328H653V428H651.5"/>
<text class="k" x="543" y="256">ptprd</text><text class="k" x="547" y="286">ptprs</text><text class="k" x="543" y="312">ptprf</text><text class="k" x="558" y="279">R2A</text><text class="k" x="535" y="335">ptprk</text><text class="k" x="582" y="370">ptprm</text><text class="k" x="557" y="402">ptprt</text><text class="k" x="651" y="438">ptpru</text><text class="k" x="654" y="380">R2B</text>
</g>
<g id="E-support">
<text class="b" x="488.6" y="245">98</text><text class="b" x="487.6" y="265.5">80</text><text class="b" x="486.6" y="260.5">90</text><text class="b" x="485.6" y="252.75">100</text><text class="b" x="487.6" y="279">67</text><text class="b" x="488.6" y="292">100</text><text class="b" x="485.6" y="285.5">85</text><text class="b" x="484.6" y="269.1">100</text><text class="b" x="485.6" y="305">100</text><text class="b" x="487.6" y="318.5">100</text><text class="b" x="483.6" y="311.75">72</text><text class="b" x="482.6" y="290.4">100</text><text class="b" x="481.6" y="272.5">98</text><text class="b" x="486.6" y="332">99</text><text class="b" x="485.6" y="345">98</text><text class="b" x="481.6" y="338.5">98</text><text class="b" x="487.6" y="359.5">99</text><text class="b" x="485.6" y="364">98</text><text class="b" x="487.6" y="379">98</text><text class="b" x="482.6" y="371.5">99</text><text class="b" x="487.6" y="392">99</text><text class="b" x="488.6" y="411.5">100</text><text class="b" x="486.6" y="406.5">95</text><text class="b" x="483.6" y="399.25">100</text><text class="b" x="479.6" y="385.4">71</text><text class="b" x="477.6" y="361.9">91</text><text class="b" x="489.6" y="425">97</text><text class="b" x="487.6" y="430.25">55</text><text class="b" x="485.6" y="435.9">96</text><text class="b" x="489.6" y="451.5">96</text><text class="b" x="481.6" y="443.7">96</text><text class="b" x="475.6" y="402.8">98</text>
</g>
</g>
</svg>
